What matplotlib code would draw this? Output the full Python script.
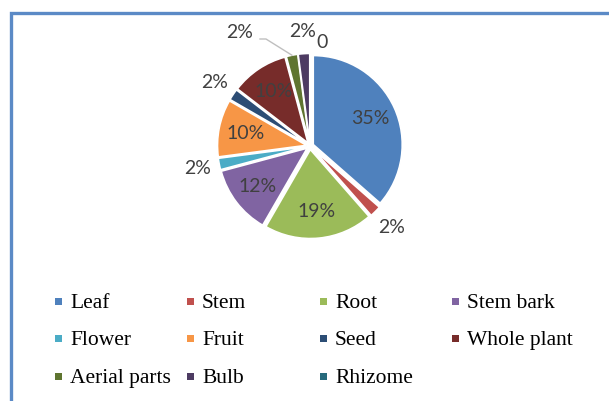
import numpy as np
import matplotlib.pyplot as plt
from matplotlib.patches import Rectangle

# ------------------------------------------------------------------------------------------
# data
list_parts = ["Leaf", "Stem", "Root", "Stem bark", "Flower", "Fruit", "Seed",
              "Whole plant", "Aerial parts", "Bulb", "Rhizome"]
list_values = [35, 2, 19, 12, 2, 10, 2, 10, 2, 2, 0]
list_labels = ["35%", "2%", "19%", "12%", "2%", "10%", "2%", "10%", "2%", "2%", "0"]
list_colors = ["#4F81BD", "#C0504D", "#9BBB59", "#8064A2", "#4BACC6", "#F79646",
               "#2C4D75", "#772C2A", "#5F7530", "#4D3B62", "#276A7C"]

W, H = 609, 401
fig = plt.figure(figsize=(W / 100, H / 100), dpi=100)


def px(x, y):
    return x / W, 1 - y / H


# blue frame (runs off the right and bottom edges)
fig.add_artist(Rectangle(px(10.5, 450), 700 / W, (450 - 12.5) / H, transform=fig.transFigure,
                         fill=False, edgecolor="#5B8AC6", linewidth=2.4))

# ------------------------------------------------------------------------------------------
# pie
cx, cy, R, half = 310, 146, 89.0, 130
ax = fig.add_axes([(cx - half) / W, (H - cy - half) / H, 2 * half / W, 2 * half / H])

wedges, _ = ax.pie(list_values, colors=list_colors, startangle=90, counterclock=False,
                   explode=[0.04] * len(list_values), radius=1.0,
                   wedgeprops=dict(edgecolor="white", linewidth=1.2))

# pie() resets the limits, so set them afterwards
lim = half / R
ax.set_xlim(-lim, lim)
ax.set_ylim(-lim, lim)
ax.set_aspect("equal")
ax.axis("off")

inside = {"35%", "19%", "12%", "10%"}
label_font = dict(family=["Lato", "DejaVu Sans"], fontsize=14, color="#404040")

for ind, (wdg, lab) in enumerate(zip(wedges, list_labels)):
    mid = np.deg2rad(0.5 * (wdg.theta1 + wdg.theta2))
    name = list_parts[ind]
    if lab in inside:
        r = 66 / R
        x, y = r * np.cos(mid), r * np.sin(mid)
    elif name == "Aerial parts":
        x, y = -70 / R, 114 / R
        # leader line
        ex, ey = 1.04 * np.cos(mid), 1.04 * np.sin(mid)
        ax.plot([-50 / R, -44 / R, ex], [107 / R, 107 / R, ey], color="#BFBFBF", lw=1.0)
    elif name == "Rhizome":
        x, y = 12 / R, 104 / R
    else:
        r = 115 / R
        x, y = r * np.cos(mid), r * np.sin(mid)
    ax.text(x, y, lab, ha="center", va="center", **label_font)

# ------------------------------------------------------------------------------------------
# legend, Excel-style uniform grid
col_x = [58, 190, 323, 455]
row_y = [301, 338, 376]
for ind, (name, col) in enumerate(zip(list_parts, list_colors)):
    mx, my = col_x[ind % 4], row_y[ind // 4]
    fig.add_artist(Rectangle(px(mx - 3.5, my + 3.5), 7 / W, 7 / H, transform=fig.transFigure,
                             facecolor=col, edgecolor="none"))
    tx, ty = px(mx + 12, my)
    fig.text(tx, ty, name, ha="left", va="center_baseline", family="Liberation Serif",
             fontsize=15.5, color="black")

plt.savefig("out.png", dpi=100)
